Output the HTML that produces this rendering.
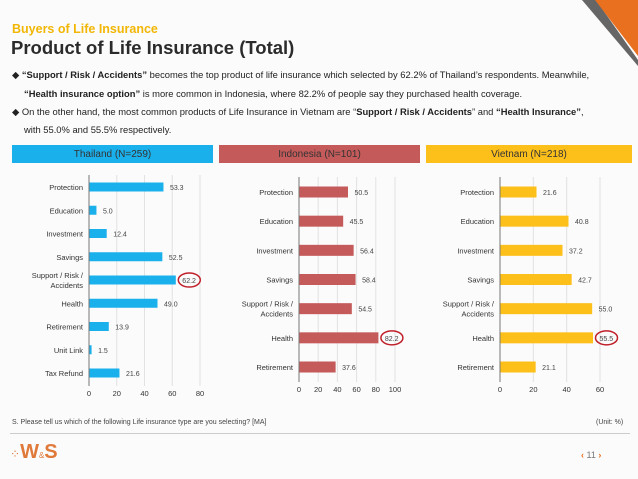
<!DOCTYPE html>
<html><head><meta charset="utf-8">
<style>
body{margin:0;width:638px;height:479px;background:#fbfbfb;font-family:"Liberation Sans",sans-serif;position:relative;overflow:hidden;color:#222}
.abs{position:absolute}
.sub{left:12px;top:22px;font-size:12.5px;font-weight:bold;color:#f2b705}
.title{left:11px;top:37px;font-size:18.5px;font-weight:bold;color:#2b2b2b}
.bul{left:12px;font-size:9.4px;color:#222;white-space:nowrap}
.hdr{top:145px;height:18px;font-size:10px;color:#333;text-align:center;line-height:19px}
svg text{font-family:"Liberation Sans",sans-serif}
</style></head><body>
<svg class="abs" style="left:0;top:0" width="638" height="479">
<polygon points="582,0 596,0 638,60 638,66" fill="#666"/>
<polygon points="595,0 638,0 638,56" fill="#e8701f"/>
</svg>
<div class="abs sub">Buyers of Life Insurance</div>
<div class="abs title">Product of Life Insurance (Total)</div>
<div class="abs bul" style="top:69px">◆ <b>“Support / Risk / Accidents”</b> becomes the top product of life insurance which selected by 62.2% of Thailand’s respondents. Meanwhile,</div>
<div class="abs bul" style="top:88px;left:24px"><b>“Health insurance option”</b> is more common in Indonesia, where 82.2% of people say they purchased health coverage.</div>
<div class="abs bul" style="top:106px">◆ On the other hand, the most common products of Life Insurance in Vietnam are “<b>Support / Risk / Accidents</b>” and <b>“Health Insurance”</b>,</div>
<div class="abs bul" style="top:124px;left:24px">with 55.0% and 55.5% respectively.</div>
<div class="abs hdr" style="left:12px;width:201px;background:#1ab0ec">Thailand (N=259)</div>
<div class="abs hdr" style="left:219px;width:201px;background:#c55a5a">Indonesia (N=101)</div>
<div class="abs hdr" style="left:426px;width:206px;background:#fdbf1a">Vietnam (N=218)</div>
<svg id="chart" class="abs" style="left:0;top:0" width="638" height="479"></svg>
<div class="abs" style="left:12px;top:419px;font-size:7px;color:#444">S. Please tell us which of the following Life insurance type are you selecting? [MA]</div>
<div class="abs" style="left:596px;top:419px;font-size:7px;color:#444">(Unit: %)</div>
<div class="abs" style="left:10px;top:433px;width:620px;height:1px;background:#ccc"></div>
<div class="abs" style="left:10px;top:441px;font-size:12px;color:#e07a3a">⁘<span style="font-size:20px;font-weight:bold">W</span><span style="font-size:8px">&amp;</span><span style="font-size:20px;font-weight:bold">S</span></div>
<div class="abs" style="left:581px;top:450px;font-size:9px;color:#777"><span style="color:#e8701f;font-weight:bold">‹</span> 11 <span style="color:#e8701f;font-weight:bold">›</span></div>
<script>
const thCats=["Protection","Education","Investment","Savings","Support / Risk /|Accidents","Health","Retirement","Unit Link","Tax Refund"];
const thVals=[53.3,5.0,12.4,52.5,62.2,49.0,13.9,1.5,21.6];
const thTicks=[0,20,40,60,80];
const idCats=["Protection","Education","Investment","Savings","Support / Risk /|Accidents","Health","Retirement"];
const idVals=[50.5,45.5,56.4,58.4,54.5,82.2,37.6];
const idTicks=[0,20,40,60,80,100];
const vnCats=["Protection","Education","Investment","Savings","Support / Risk /|Accidents","Health","Retirement"];
const vnVals=[21.6,40.8,37.2,42.7,55.0,55.5,21.1];
const vnTicks=[0,20,40,60];
const NS="http://www.w3.org/2000/svg";
const svg=document.getElementById('chart');
function mk(t,a,p){const e=document.createElementNS(NS,t);for(const k in a)e.setAttribute(k,a[k]);(p||svg).appendChild(e);return e;}
function draw(name,cats,vals,ticks,x0,x1,y0,y1,c0,cN,bh,color,hi){
  const g=mk('g',{});
  
  
  const max=ticks[ticks.length-1];
  const X=v=>x0+(x1-x0)*v/max;
  const Y=i=>c0+(cN-c0)*i/(cats.length-1);
  ticks.forEach(t=>{
    if(t>0){const l=mk('line',{x1:X(t),x2:X(t),y1:y0,y2:y1,stroke:'#e2e2e2','stroke-width':1},g);
    
    }
    const tx=mk('text',{x:X(t),y:y1+10,'font-size':7.5,fill:'#333','text-anchor':'middle'},g);
    tx.textContent=t;
    
    
  });
  const ax=mk('line',{x1:x0,x2:x0,y1:y0,y2:y1,stroke:'#777','stroke-width':1},g);
  
  
  cats.forEach((c,i)=>{
    const y=Y(i);
    const r=mk('rect',{x:x0+0.5,y:y-bh/2,width:Math.max(X(vals[i])-x0,1),height:bh,fill:color},g);
    
    
    const parts=c.split('|');
    parts.forEach((p,j)=>{
      const t=mk('text',{x:x0-6,y:y+3+(j-(parts.length-1)/2)*10,'font-size':7.5,fill:'#333','text-anchor':'end'},g);
      t.textContent=p;
      
      
    });
    const vx=X(vals[i])+7;
    const v=mk('text',{x:vx,y:y+3,'font-size':7,fill:'#444'},g);
    v.textContent=vals[i].toFixed(1);
    
    
    if(i===hi){
      const e=mk('ellipse',{cx:vx+7,cy:y,rx:11,ry:7,fill:'none',stroke:'#c0202a','stroke-width':1.5},g);
      
      
    }
  });
}
draw('thailand',thCats,thVals,thTicks,89,200,175,386,187,373,9,'#1ab0ec',4);
draw('indonesia',idCats,idVals,idTicks,299,395,177,382,192,367,11,'#c55a5a',5);
draw('vietnam',vnCats,vnVals,vnTicks,500,600,177,382,192,367,11,'#fdbf1a',5);
</script>
</body></html>
